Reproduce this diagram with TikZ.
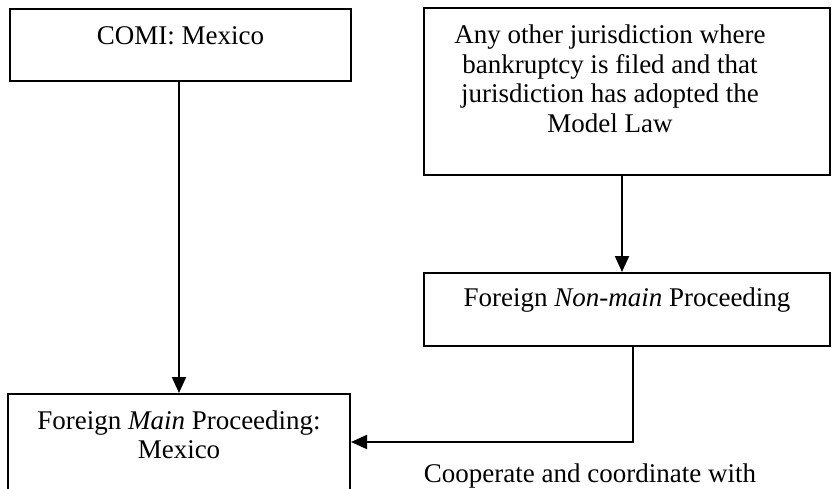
\documentclass[tikz,border=0pt]{standalone}
\usepackage{fontspec}
\setmainfont{Liberation Serif}
\usetikzlibrary{arrows.meta}
\begin{document}
\begin{tikzpicture}[x=1pt,y=-1pt,
  font=\fontsize{27}{29.5}\selectfont,
  box/.style={draw, line width=2pt, rectangle, inner sep=0pt},
  txt/.style={align=center, inner sep=0pt},
  conn/.style={line width=2pt},
  arr/.style={conn, -{Triangle[length=16pt,width=14pt]}}]
\useasboundingbox (0,0) rectangle (832,489);
\clip (0,0) rectangle (832,489);
\fill[white] (0,0) rectangle (832,489);

\node[box, minimum width=341pt, minimum height=72pt] (comi) at (180.5,45) {};
\node[txt] (comit) at (180.5,36) {COMI: Mexico};

\node[box, minimum width=406pt, minimum height=167pt] (other) at (627,91.5) {};
\node[txt] (othert) at (610,79) {Any other jurisdiction where\\bankruptcy is filed and that\\jurisdiction has adopted the\\Model Law};

\node[box, minimum width=406pt, minimum height=73pt] (nonmain) at (627,309.5) {};
\node[txt] (nonmaint) at (627,300) {Foreign \textit{Non-main} Proceeding};

\node[box, minimum width=342pt, minimum height=130pt] (main) at (179,459) {};
\node[txt] (maint) at (179,435) {Foreign \textit{Main} Proceeding:\\Mexico};

\node[txt] (coop) at (590,476) {Cooperate and coordinate with};

\coordinate (bend) at (633,442);
\draw[arr] (comi.south -| main.north) -- (main.north);
\draw[arr] ([xshift=-5pt]other.south) -- ([xshift=-5pt]other.south |- nonmain.north);
\draw[arr] (nonmain.south -| bend) -- (bend) -- (bend -| main.east);
\end{tikzpicture}
\end{document}
